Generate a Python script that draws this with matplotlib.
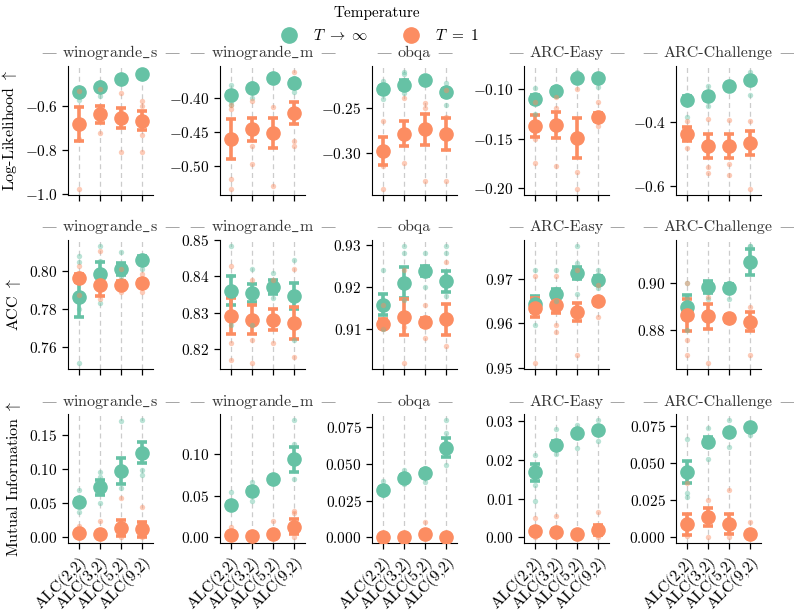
import logging

logging.getLogger("matplotlib.font_manager").setLevel(logging.WARNING)

import matplotlib

matplotlib.use("Agg")
from matplotlib import pyplot as plt
from matplotlib.lines import Line2D
from matplotlib.transforms import IdentityTransform

plt.rcParams["font.family"] = ["cmr10", "DejaVu Serif"]
plt.rcParams["mathtext.fontset"] = "cm"
plt.rcParams["axes.formatter.use_mathtext"] = True
plt.rcParams["font.size"] = 11

CATEGORIES = ["ALC(2,2)", "ALC(3,2)", "ALC(5,2)", "ALC(9,2)"]
DATASETS = ["winogrande_s", "winogrande_m", "obqa", "ARC-Easy", "ARC-Challenge"]
YLABELS = [r"Log-Likelihood $\uparrow$", r"ACC $\uparrow$", r"Mutual Information $\uparrow$"]
SERIES = [r"$T \ \to \ \infty$", r"$T \ = \ 1$"]

# log-likelihood
ll_inf_mean = [
    [-0.534, -0.511, -0.474, -0.450],
    [-0.395, -0.385, -0.370, -0.377],
    [-0.229, -0.224, -0.219, -0.232],
    [-0.110, -0.102, -0.089, -0.089],
    [-0.329, -0.319, -0.287, -0.268],
]
ll_inf_err = [
    [0.008, 0.010, 0.006, 0.006],
    [0.005, 0.004, 0.003, 0.005],
    [0.004, 0.005, 0.003, 0.004],
    [0.004, 0.003, 0.002, 0.002],
    [0.010, 0.010, 0.006, 0.008],
]
ll_t1_mean = [
    [-0.681, -0.635, -0.653, -0.665],
    [-0.460, -0.446, -0.451, -0.422],
    [-0.298, -0.279, -0.274, -0.279],
    [-0.137, -0.136, -0.149, -0.128],
    [-0.437, -0.474, -0.474, -0.465],
]
ll_t1_err = [
    [0.079, 0.039, 0.047, 0.045],
    [0.030, 0.017, 0.022, 0.016],
    [0.0155, 0.014, 0.0175, 0.0175],
    [0.0115, 0.013, 0.020, 0.004],
    [0.022, 0.037, 0.038, 0.039],
]
ll_inf_pts = [
    [[-0.52, -0.55, -0.57], [-0.49, -0.53, -0.55], [-0.46, -0.49], [-0.44, -0.46]],
    [[-0.38, -0.405, -0.41], [-0.377, -0.40], [-0.365, -0.375], [-0.37, -0.39]],
    [[-0.22, -0.24], [-0.209, -0.212, -0.233], [-0.215, -0.222], [-0.222, -0.246]],
    [[-0.099, -0.125], [-0.097, -0.105], [-0.082, -0.092], [-0.086, -0.098]],
    [[-0.313, -0.384], [-0.287, -0.35], [-0.28, -0.29], [-0.241, -0.313]],
]
ll_t1_pts = [
    [[-0.53, -0.75, -0.98], [-0.52, -0.60, -0.72], [-0.54, -0.62, -0.81], [-0.575, -0.60, -0.73, -0.81]],
    [[-0.41, -0.415, -0.52, -0.535], [-0.404, -0.47, -0.497], [-0.413, -0.531], [-0.36, -0.464, -0.47]],
    [[-0.264, -0.315, -0.341], [-0.239, -0.312], [-0.244, -0.25, -0.332], [-0.23, -0.26, -0.332]],
    [[-0.113, -0.150, -0.174], [-0.108, -0.119, -0.178], [-0.100, -0.184, -0.201], [-0.113, -0.137]],
    [[-0.395, -0.48], [-0.39, -0.54, -0.56], [-0.392, -0.53, -0.566], [-0.395, -0.61]],
]

# accuracy
acc_inf_mean = [
    [0.7863, 0.7983, 0.8009, 0.8057],
    [0.8360, 0.8355, 0.8371, 0.8346],
    [0.9159, 0.9211, 0.9238, 0.9214],
    [0.9644, 0.9666, 0.9713, 0.9698],
    [0.8897, 0.8983, 0.8979, 0.9086],
]
acc_inf_err = [
    [0.0105, 0.0063, 0.003, 0.002],
    [0.004, 0.0025, 0.002, 0.0037],
    [0.0025, 0.0037, 0.0012, 0.0025],
    [0.0018, 0.001, 0.0014, 0.0007],
    [0.005, 0.0025, 0.0015, 0.0054],
]
acc_t1_mean = [
    [0.7962, 0.7922, 0.7927, 0.7936],
    [0.8291, 0.8281, 0.8281, 0.8272],
    [0.9114, 0.9130, 0.9118, 0.9124],
    [0.9635, 0.9642, 0.9625, 0.9649],
    [0.8864, 0.8859, 0.8850, 0.8836],
]
acc_t1_err = [
    [0.002, 0.0054, 0.002, 0.0015],
    [0.005, 0.004, 0.003, 0.0045],
    [0.001, 0.0043, 0.001, 0.0037],
    [0.0022, 0.0018, 0.0021, 0.0008],
    [0.0068, 0.0053, 0.0015, 0.004],
]
acc_inf_pts = [
    [[0.7515, 0.780, 0.8043, 0.8075], [0.783, 0.805, 0.813], [0.797, 0.8097], [0.801, 0.804]],
    [[0.8265, 0.840, 0.8485], [0.8265, 0.842], [0.834, 0.841], [0.8225, 0.8445]],
    [[0.910, 0.924], [0.917, 0.928, 0.9298], [0.920, 0.928], [0.918, 0.928, 0.9298]],
    [[0.9595, 0.972], [0.965, 0.972], [0.9665, 0.9736, 0.9774], [0.968, 0.972]],
    [[0.880, 0.8935, 0.900], [0.893, 0.900], [0.893, 0.900], [0.9154, 0.9154]],
]
acc_t1_pts = [
    [[0.787, 0.8023], [0.785, 0.810], [0.789, 0.801], [0.789, 0.798]],
    [[0.817, 0.8215, 0.843], [0.816, 0.8225, 0.839], [0.8215, 0.839], [0.8177, 0.842]],
    [[0.9106, 0.9158], [0.902, 0.9106, 0.924], [0.908, 0.9158], [0.906, 0.926]],
    [[0.951, 0.9706], [0.958, 0.9596, 0.9706], [0.9528, 0.972], [0.9614, 0.9686]],
    [[0.8697, 0.876, 0.900], [0.8662, 0.894], [0.884, 0.886], [0.8697, 0.8897]],
]

# mutual information
mi_inf_mean = [
    [0.0522, 0.0733, 0.0972, 0.1240],
    [0.0390, 0.0562, 0.0699, 0.0938],
    [0.0324, 0.0404, 0.0437, 0.0611],
    [0.0168, 0.0240, 0.0270, 0.0277],
    [0.0440, 0.0644, 0.0709, 0.0745],
]
mi_inf_err = [
    [0.004, 0.011, 0.019, 0.015],
    [0.003, 0.003, 0.002, 0.015],
    [0.002, 0.002, 0.002, 0.0065],
    [0.0023, 0.001, 0.0005, 0.0005],
    [0.0073, 0.003, 0.001, 0.001],
]
mi_t1_mean = [
    [0.0067, 0.0044, 0.0141, 0.0117],
    [0.0024, 0.0012, 0.0036, 0.0128],
    [0.0003, 0.0003, 0.0025, 0.0003],
    [0.0016, 0.0015, 0.0008, 0.0019],
    [0.0088, 0.0140, 0.0088, 0.0022],
]
mi_t1_err = [
    [0.003, 0.002, 0.012, 0.011],
    [0.002, 0.001, 0.002, 0.009],
    [0.0003, 0.0003, 0.001, 0.0003],
    [0.0008, 0.0008, 0.0004, 0.0012],
    [0.0071, 0.006, 0.0067, 0.001],
]
mi_inf_pts = [
    [[0.0373, 0.069], [0.051, 0.088, 0.0953], [0.0717, 0.1704], [0.092, 0.099, 0.172]],
    [[0.035, 0.0438, 0.055], [0.044, 0.0658], [0.068, 0.072], [0.07, 0.112, 0.1408]],
    [[0.029, 0.0385], [0.036, 0.046], [0.038, 0.047], [0.049, 0.071, 0.0799]],
    [[0.0095, 0.0135, 0.0213], [0.0215, 0.028], [0.023, 0.0291], [0.025, 0.0304]],
    [[0.027, 0.030, 0.0665], [0.053, 0.0735], [0.061, 0.0793], [0.0693, 0.0745]],
]
mi_t1_pts = [
    [[0.0, 0.0161], [0.0, 0.024], [0.0, 0.057], [0.0, 0.044]],
    [[0.0, 0.0128], [0.0, 0.001], [0.0, 0.020], [0.0, 0.029, 0.0316]],
    [[0.0, 0.0], [0.0, 0.0], [0.0, 0.0108], [0.0, 0.0]],
    [[0.0, 0.0049], [0.0, 0.0055], [0.0, 0.001], [0.0, 0.0066]],
    [[0.001, 0.0365], [0.0, 0.025], [0.0, 0.0318], [0.0, 0.0105]],
]

ROWS = [
    ((ll_inf_mean, ll_inf_err, ll_inf_pts), (ll_t1_mean, ll_t1_err, ll_t1_pts)),
    ((acc_inf_mean, acc_inf_err, acc_inf_pts), (acc_t1_mean, acc_t1_err, acc_t1_pts)),
    ((mi_inf_mean, mi_inf_err, mi_inf_pts), (mi_t1_mean, mi_t1_err, mi_t1_pts)),
]
COLORS = ["#66c2a5", "#fc8d62"]


def title_text(name):
    # cmr10 maps "_" to a dot accent, so names with underscores go through mathtext
    if "_" in name:
        return r"$\mathrm{" + name.replace("_", r"\_") + "}$"
    return name


fig, axes = plt.subplots(3, 5, figsize=(7.94, 6.14), dpi=100)
fig.subplots_adjust(left=0.0856, right=0.9584, top=0.893, bottom=0.1151, wspace=0.788, hspace=0.346)

titles = []
xs = list(range(len(CATEGORIES)))
for r, row in enumerate(ROWS):
    for c, name in enumerate(DATASETS):
        ax = axes[r, c]
        for x in xs:
            ax.axvline(x, color="#cccccc", lw=0.9, ls=(0, (4, 3)), zorder=0)
        for (means, errs, pts), color in zip(row, COLORS):
            ax.errorbar(
                xs, means[c], yerr=errs[c], fmt="o", ms=9.5, color=color,
                elinewidth=2.6, capsize=3.5, capthick=2.6, zorder=3,
            )
        for (means, errs, pts), color in zip(row, COLORS):
            for x, vals in zip(xs, pts[c]):
                ax.scatter([x] * len(vals), vals, s=15, color=color, alpha=0.45, lw=0, zorder=4)
        ax.set_xlim(-0.5, 3.5)
        ax.set_xticks(xs)
        if r == 2:
            ax.set_xticklabels(CATEGORIES, rotation=45, ha="right", rotation_mode="anchor", fontsize=11.5)
        else:
            ax.set_xticklabels([])
        titles.append(ax.set_title(title_text(name), fontsize=11.5, color="#333333", pad=6))
        for side in ["top", "right"]:
            ax.spines[side].set_visible(False)
        ax.tick_params(length=4, width=0.9)
        if c == 0:
            ax.set_ylabel(YLABELS[r], fontsize=11.5)

handles = [Line2D([], [], marker="o", ls="", ms=11, color=col) for col in COLORS]
fig.legend(
    handles, SERIES, loc="upper center", bbox_to_anchor=(0.474, 1.012), ncol=2,
    frameon=False, title="Temperature", fontsize=11, title_fontsize=11,
    columnspacing=1.8, handletextpad=0.6, handlelength=2.0,
)

# light dashes either side of each panel title
fig.canvas.draw()
renderer = fig.canvas.get_renderer()
for t in titles:
    bb = t.get_window_extent(renderer)
    _, y_base = t.get_transform().transform(t.get_position())
    for x, ha in [(bb.x0 - 6, "right"), (bb.x1 + 6, "left")]:
        fig.text(x, y_base, "\u2014", ha=ha, va="baseline", transform=IdentityTransform(),
                 family=["DejaVu Serif"], fontsize=11, color="#8a8a8a")

fig.savefig("out.png", dpi=100)
plt.close(fig)
